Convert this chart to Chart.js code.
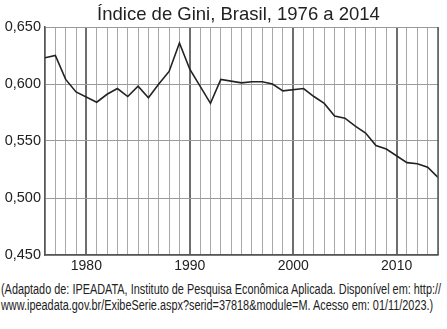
<!DOCTYPE html>
<html>
<head>
<meta charset="utf-8">
<script src="https://cdn.jsdelivr.net/npm/chart.js@4"></script>
<style>
  html, body { margin: 0; padding: 0; background: #fff; }
  #wrap { width: 447px; height: 280px; position: relative; }
  .fonte {
    font-family: 'Liberation Sans', sans-serif;
    font-size: 14px; color: #222; line-height: 16px; margin-left: 1px; margin-top: 1px;
    white-space: nowrap; display: inline-block; transform-origin: 0 0;
  }
</style>
</head>
<body>
<div id="wrap"><canvas id="giniChart" width="447" height="280"></canvas></div>
<div class="fonte" id="fonte">(Adaptado de: IPEADATA, Instituto de Pesquisa Econômica Aplicada. Disponível em: http://<br>www.ipeadata.gov.br/ExibeSerie.aspx?serid=37818&amp;module=M. Acesso em: 01/11/2023.)</div>
<script>
// anos sem dado (1980, 1991, 1994, 2000, 2010) ficam de fora e a linha liga direto
const anos = [1976, 1977, 1978, 1979, 1981, 1982, 1983, 1984, 1985, 1986, 1987, 1988, 1989, 1990,
              1992, 1993, 1995, 1996, 1997, 1998, 1999, 2001, 2002, 2003, 2004, 2005, 2006, 2007,
              2008, 2009, 2011, 2012, 2013, 2014];
const gini = [0.623, 0.625, 0.604, 0.593, 0.584, 0.591, 0.596, 0.589, 0.598, 0.588, 0.600, 0.611, 0.636, 0.613,
              0.583, 0.604, 0.601, 0.602, 0.602, 0.600, 0.594, 0.596, 0.589, 0.583, 0.572, 0.570, 0.563, 0.557,
              0.546, 0.543, 0.531, 0.530, 0.527, 0.518];
const marcasX = [1980, 1990, 2000, 2010];
const titulo = 'Índice de Gini, Brasil, 1976 a 2014';

// fonte condensada: aperta o texto da fonte pra caber na largura
const fonte = document.getElementById('fonte');
fonte.style.transform = 'scaleX(' + (440 / fonte.scrollWidth) + ')';

const ctx = document.getElementById('giniChart').getContext('2d');
const chart = new Chart(ctx, {
    type: 'line',
    data: {
        datasets: [{
            label: 'Gini',
            data: anos.map((a, i) => ({ x: a, y: gini[i] })),
            borderColor: '#222',
            borderWidth: 1.6,
            pointRadius: 0,
            tension: 0,
            fill: false
        }]
    },
    options: {
        responsive: false,
        animation: false,
        layout: { padding: { left: 0, right: 9, top: 27, bottom: 0 } },
        plugins: {
            legend: { display: false },
            tooltip: { enabled: false },
            title: { display: false }
        },
        scales: {
            x: {
                type: 'linear',
                min: 1976,
                max: 2014,
                ticks: {
                    stepSize: 1,
                    autoSkip: false,
                    maxRotation: 0,
                    color: '#222',
                    padding: 3,
                    font: { family: 'Liberation Sans', size: 14 },
                    callback: v => marcasX.includes(v) ? String(v) : ''
                },
                grid: {
                    drawTicks: false,
                    color: c => (c.tick && c.tick.value % 10 === 0) ? '#6e6e6e' : '#a8a8a8',
                    lineWidth: c => (c.tick && c.tick.value % 10 === 0) ? 2 : 1
                },
                border: { color: '#555', width: 1.5 },
                afterFit: s => { s.height = 25; }
            },
            y: {
                min: 0.45,
                max: 0.65,
                ticks: {
                    stepSize: 0.05,
                    color: '#222',
                    padding: 4,
                    font: { family: 'Liberation Sans', size: 14.5 },
                    callback: v => v.toFixed(3).replace('.', ',')
                },
                grid: { drawTicks: false, color: '#9a9a9a', lineWidth: 1 },
                border: { color: '#555', width: 1.5 },
                afterFit: s => { s.width = 45; }
            }
        }
    },
    plugins: [{
        id: 'tituloEBorda',
        afterDraw(c) {
            const a = c.chartArea, g = c.ctx;
            g.save();
            g.strokeStyle = '#555';
            g.lineWidth = 1.5;
            g.beginPath();
            g.moveTo(a.right, a.top);
            g.lineTo(a.right, a.bottom);
            g.stroke();
            // título centrado sobre a área do gráfico
            g.fillStyle = '#222';
            g.font = '18.5px "Liberation Sans"';
            g.textAlign = 'center';
            g.textBaseline = 'alphabetic';
            g.fillText(titulo, (a.left + a.right) / 2 - 3, 20);
            g.restore();
        }
    }]
});
</script>
</body>
</html>
